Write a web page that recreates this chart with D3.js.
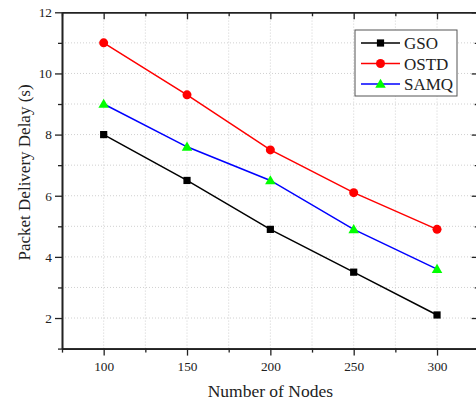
<!DOCTYPE html>
<html>
<head>
<meta charset="utf-8">
<script src="https://cdn.jsdelivr.net/npm/d3@7"></script>
<style>
  body { margin: 0; background: #fff; }
  svg { display: block; }
  svg text { font-family: "Liberation Serif", "Times New Roman", serif; }
</style>
</head>
<body>
<svg id="chart" width="476" height="403"></svg>
<script>
// data
const nodes = [100, 150, 200, 250, 300];
const gso  = [8.0, 6.5, 4.9, 3.5, 2.1];
const ostd = [11.0, 9.3, 7.5, 6.1, 4.9];
const samq = [9.0, 7.6, 6.5, 4.9, 3.6];

const xTicks = [100, 150, 200, 250, 300];
const yTicks = [2, 4, 6, 8, 10, 12];

const series = [
  { name: 'GSO',  values: gso,  color: '#000000', marker: 'square' },
  { name: 'OSTD', values: ostd, color: '#ff0000', marker: 'circle' },
  { name: 'SAMQ', values: samq, color: '#0000ff', marker: 'triangle', fill: '#00ff00' }
];

const serif = '"Liberation Serif", "Times New Roman", serif';
const svg = d3.select('#chart');
const margin = { left: 62, top: 12.3 };
const plotW = 416.7, plotH = 336.3;

const x = d3.scaleLinear().domain([75, 325]).range([margin.left, margin.left + plotW]);
const y = d3.scaleLinear().domain([1, 12]).range([margin.top + plotH, margin.top]);

// dotted grid at major and minor positions
const grid = svg.append('g').attr('stroke', '#d0d0d0').attr('stroke-width', 1).attr('stroke-dasharray', '1,2');
grid.selectAll('line.gx')
  .data(d3.range(100, 325, 25))
  .enter().append('line')
  .attr('x1', d => x(d)).attr('x2', d => x(d))
  .attr('y1', y(1)).attr('y2', y(12));
grid.selectAll('line.gy')
  .data(d3.range(2, 12, 1))
  .enter().append('line')
  .attr('x1', x(75)).attr('x2', x(325))
  .attr('y1', d => y(d)).attr('y2', d => y(d));

// axes: major + minor ticks, mirrored on top/right
function styleAxis(g) {
  g.attr('font-family', serif);
  g.select('.domain').attr('stroke', '#222').attr('stroke-width', 1.6);
  g.selectAll('.tick line').attr('stroke', '#222').attr('stroke-width', 1.3);
  g.selectAll('.tick text').attr('fill', '#222').style('font-size', '13.3px')
    .style('font-family', serif);
}

const minorX = d3.range(75, 326, 25).filter(d => d % 50 !== 0);
const minorY = d3.range(1, 13, 2);

svg.append('g').attr('transform', `translate(0,${y(1)})`)
  .call(d3.axisBottom(x).tickValues(xTicks).tickSize(7).tickPadding(6).tickSizeOuter(0))
  .call(styleAxis);
svg.append('g').attr('transform', `translate(0,${y(1)})`)
  .call(d3.axisBottom(x).tickValues(minorX).tickSize(4).tickFormat('').tickSizeOuter(0))
  .call(styleAxis);

svg.append('g').attr('transform', `translate(${x(75)},0)`)
  .call(d3.axisLeft(y).tickValues(yTicks).tickSize(7).tickPadding(3).tickSizeOuter(0))
  .call(styleAxis);
svg.append('g').attr('transform', `translate(${x(75)},0)`)
  .call(d3.axisLeft(y).tickValues(minorY).tickSize(4).tickFormat('').tickSizeOuter(0))
  .call(styleAxis);

// top mirror (ticks point down into the plot)
svg.append('g').attr('transform', `translate(0,${y(12)})`)
  .call(d3.axisBottom(x).tickValues(xTicks).tickSize(7).tickFormat('').tickSizeOuter(0))
  .call(styleAxis);
svg.append('g').attr('transform', `translate(0,${y(12)})`)
  .call(d3.axisBottom(x).tickValues(minorX).tickSize(4).tickFormat('').tickSizeOuter(0))
  .call(styleAxis);

// right mirror (ticks point left into the plot)
svg.append('g').attr('transform', `translate(${x(325)},0)`)
  .call(d3.axisLeft(y).tickValues(yTicks).tickSize(7).tickFormat('').tickSizeOuter(0))
  .call(styleAxis);
svg.append('g').attr('transform', `translate(${x(325)},0)`)
  .call(d3.axisLeft(y).tickValues(minorY).tickSize(4).tickFormat('').tickSizeOuter(0))
  .call(styleAxis);

// axis titles
svg.append('text')
  .attr('x', x(200)).attr('y', 397)
  .attr('text-anchor', 'middle')
  .style('font-family', serif)
  .style('font-size', '17.5px').attr('fill', '#222')
  .text('Number of Nodes');
svg.append('text')
  .attr('transform', `translate(30,${(y(1) + y(12)) / 2 - 8}) rotate(-90)`)
  .attr('text-anchor', 'middle')
  .style('font-family', serif)
  .style('font-size', '17px').attr('fill', '#222')
  .text('Packet Delivery Delay (s)');

// markers
function drawMarker(g, type, color, fill) {
  if (type === 'square') {
    g.append('rect').attr('x', -3.6).attr('y', -3.6).attr('width', 7.2).attr('height', 7.2)
      .attr('fill', color);
  } else if (type === 'circle') {
    g.append('circle').attr('r', 4.5).attr('fill', color);
  } else {
    g.append('path').attr('d', d3.symbol().type(d3.symbolTriangle).size(48)())
      .attr('transform', 'translate(0,0.8)')
      .attr('fill', fill);
  }
}

const line = d3.line().x((d, i) => x(nodes[i])).y(d => y(d));

series.forEach(s => {
  svg.append('path')
    .datum(s.values)
    .attr('d', line)
    .attr('fill', 'none')
    .attr('stroke', s.color)
    .attr('stroke-width', 1.5);
  s.values.forEach((v, i) => {
    const g = svg.append('g').attr('transform', `translate(${x(nodes[i])},${y(v)})`);
    drawMarker(g, s.marker, s.color, s.fill);
  });
});

// legend
const legend = svg.append('g').attr('transform', 'translate(355,30)');
legend.append('rect')
  .attr('width', 102).attr('height', 66)
  .attr('fill', '#fff').attr('stroke', '#555').attr('stroke-width', 1);
series.forEach((s, i) => {
  const row = legend.append('g').attr('transform', `translate(0,${13 + i * 20.5})`);
  row.append('line').attr('x1', 6).attr('x2', 45).attr('y1', 0).attr('y2', 0)
    .attr('stroke', s.color).attr('stroke-width', 1.5);
  const m = row.append('g').attr('transform', 'translate(25.5,0)');
  drawMarker(m, s.marker, s.color, s.fill);
  row.append('text')
    .attr('x', 49).attr('y', 6)
    .style('font-family', serif)
    .style('font-size', '17px').attr('fill', '#222')
    .text(s.name);
});
</script>
</body>
</html>
